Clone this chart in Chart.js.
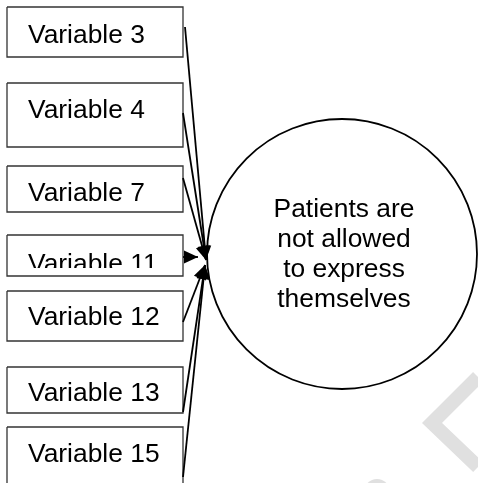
<!DOCTYPE html>
<html>
<head>
<meta charset="utf-8">
<script src="https://cdn.jsdelivr.net/npm/chart.js@4"></script>
<style>
  html, body { margin: 0; padding: 0; background: #fff; }
  canvas { display: block; }
</style>
</head>
<body>
<canvas id="diagram" width="478" height="483"></canvas>
<script>
// boxes on the left, all pointing at the outcome circle
const variables = ['Variable 3', 'Variable 4', 'Variable 7', 'Variable 11', 'Variable 12', 'Variable 13', 'Variable 15'];
const boxTop = [7, 83, 166, 235, 291, 367, 427];
const boxBottom = [57, 147, 212, 276, 341, 413, 500];
const labelBaseline = [43, 118, 201, 272, 325, 401, 462];
const labelVisibleTo = [57, 147, 212, 268, 341, 413, 483];
const arrowFrom = [[185, 27], [183, 113], [183, 178], [183, 257], [183, 322], [183, 412], [183, 477]];
const arrowTo = [[206, 260], [206, 260], [206, 260], [198, 257], [205, 265], [205, 265], [205, 265]];
const outcome = ['Patients are', 'not allowed', 'to express', 'themselves'];
const outcomeCenter = [342, 254];
const outcomeBaseline = [217, 247, 277, 307];
const watermark = [[478, 377], [432, 423], [478, 467]];

const BOX_LEFT = 7, BOX_RIGHT = 183;
const FONT = '26.4px "Liberation Sans", Arial, sans-serif';

const datasets = [];

variables.forEach((v, i) => {
  datasets.push({
    type: 'line',
    label: 'arrow ' + v,
    data: [{x: arrowFrom[i][0], y: arrowFrom[i][1]}, {x: arrowTo[i][0], y: arrowTo[i][1]}],
    borderColor: '#000',
    borderWidth: 1.8,
    pointRadius: 0,
    order: 0,
    arrow: true
  });
});

datasets.push({
  type: 'scatter',
  label: 'outcome',
  data: [{x: outcomeCenter[0], y: outcomeCenter[1]}],
  pointRadius: 135,
  pointBackgroundColor: '#fff',
  pointBorderColor: '#000',
  pointBorderWidth: 1.8,
  order: 1
});

variables.forEach((v, i) => {
  datasets.push({
    type: 'line',
    label: v,
    data: [
      {x: BOX_LEFT, y: boxTop[i]}, {x: BOX_RIGHT, y: boxTop[i]},
      {x: BOX_RIGHT, y: boxBottom[i]}, {x: BOX_LEFT, y: boxBottom[i]},
      {x: BOX_LEFT, y: boxTop[i]}
    ],
    borderColor: '#333',
    borderWidth: 1.3,
    pointRadius: 0,
    order: 2
  });
});

datasets.push({
  type: 'line',
  label: 'watermark',
  data: watermark.map(p => ({x: p[0], y: p[1]})),
  borderColor: '#e0e0e0',
  borderWidth: 14,
  pointRadius: 0,
  order: 3
});
datasets.push({
  type: 'scatter',
  label: 'watermark blob',
  data: [{x: 377, y: 492}],
  pointRadius: 13,
  pointBackgroundColor: '#e0e0e0',
  pointBorderWidth: 0,
  order: 3,
  clip: false
});

const textPlugin = {
  id: 'diagramText',
  afterDatasetsDraw(chart) {
    const ctx = chart.ctx;
    const xs = chart.scales.x, ys = chart.scales.y;

    // arrowheads
    chart.data.datasets.forEach((ds) => {
      if (!ds.arrow) return;
      const a = ds.data[0], b = ds.data[1];
      const x0 = xs.getPixelForValue(a.x), y0 = ys.getPixelForValue(a.y);
      const x1 = xs.getPixelForValue(b.x), y1 = ys.getPixelForValue(b.y);
      const ang = Math.atan2(y1 - y0, x1 - x0);
      const len = 14, half = 6.5;
      ctx.save();
      ctx.fillStyle = '#000';
      ctx.beginPath();
      ctx.moveTo(x1, y1);
      ctx.lineTo(x1 - len * Math.cos(ang) + half * Math.sin(ang), y1 - len * Math.sin(ang) - half * Math.cos(ang));
      ctx.lineTo(x1 - len * Math.cos(ang) - half * Math.sin(ang), y1 - len * Math.sin(ang) + half * Math.cos(ang));
      ctx.closePath();
      ctx.fill();
      ctx.restore();
    });

    ctx.save();
    ctx.font = FONT;
    ctx.fillStyle = '#000';
    ctx.textBaseline = 'alphabetic';

    ctx.textAlign = 'left';
    variables.forEach((v, i) => {
      const top = ys.getPixelForValue(boxTop[i]);
      const bottom = ys.getPixelForValue(labelVisibleTo[i]);
      ctx.save();
      ctx.beginPath();
      ctx.rect(xs.getPixelForValue(BOX_LEFT), top, BOX_RIGHT - BOX_LEFT, bottom - top);
      ctx.clip();
      ctx.fillText(v, xs.getPixelForValue(28), ys.getPixelForValue(labelBaseline[i]));
      ctx.restore();
    });

    ctx.textAlign = 'center';
    outcome.forEach((line, i) => {
      ctx.fillText(line, xs.getPixelForValue(outcomeCenter[0] + 2), ys.getPixelForValue(outcomeBaseline[i]));
    });
    ctx.restore();
  }
};

new Chart(document.getElementById('diagram'), {
  type: 'line',
  data: { datasets: datasets },
  options: {
    responsive: false,
    animation: false,
    events: [],
    layout: { padding: 0, autoPadding: false },
    plugins: { legend: { display: false }, tooltip: { enabled: false } },
    scales: {
      x: { type: 'linear', min: 0, max: 478, display: false },
      y: { type: 'linear', min: 0, max: 483, reverse: true, display: false }
    }
  },
  plugins: [textPlugin]
});
</script>
</body>
</html>
